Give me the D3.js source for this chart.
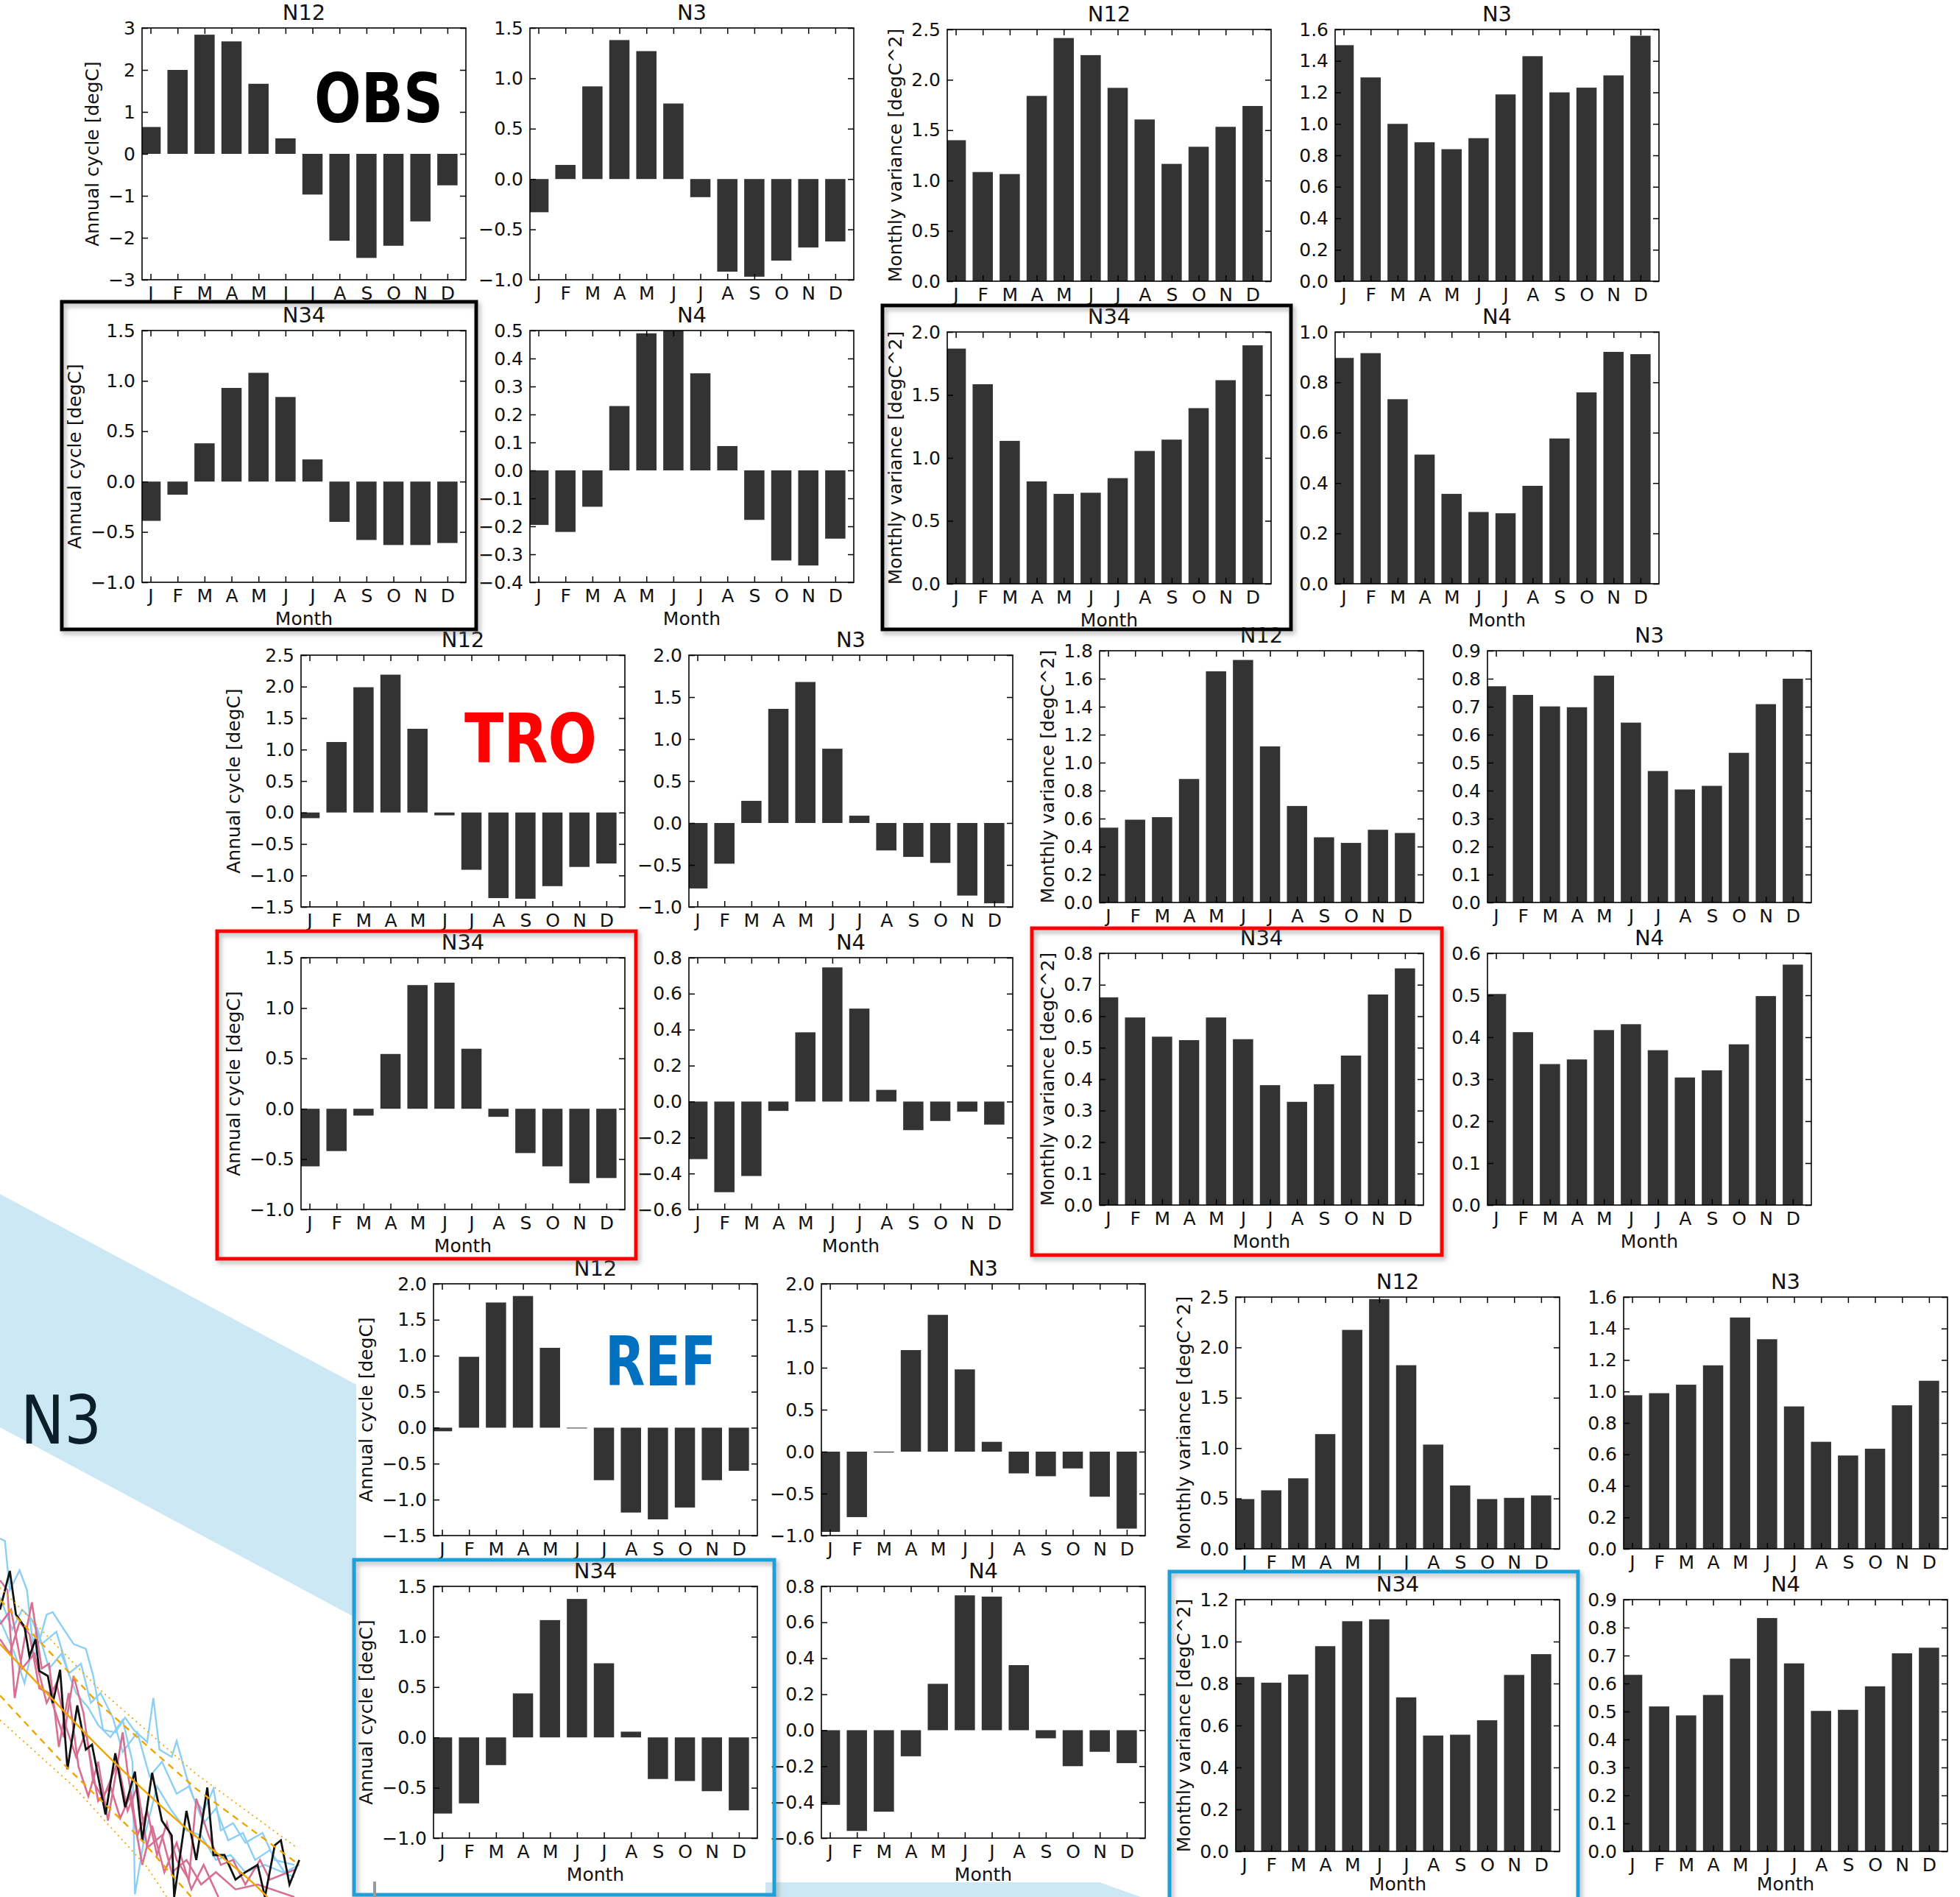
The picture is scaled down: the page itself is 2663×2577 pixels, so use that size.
<!DOCTYPE html>
<html>
<head>
<meta charset="utf-8">
<script src="https://cdn.jsdelivr.net/npm/d3@7"></script>
<style>
body { margin: 0; background: #fff; }
svg { display: block; }
text { font-family: 'DejaVu Sans', sans-serif; }
</style>
</head>
<body>
<svg id="fig" width="2663" height="2577"></svg>
<script>
var months = ["J","F","M","A","M","J","J","A","S","O","N","D"];

// OBS - annual cycle [degC]
var obsN12Cycle = [0.64, 2.0, 2.84, 2.68, 1.67, 0.37, -0.97, -2.07, -2.48, -2.19, -1.61, -0.75];
var obsN3Cycle  = [-0.33, 0.14, 0.92, 1.38, 1.27, 0.75, -0.18, -0.92, -0.97, -0.81, -0.68, -0.62];
var obsN34Cycle = [-0.39, -0.13, 0.38, 0.93, 1.08, 0.84, 0.22, -0.40, -0.58, -0.63, -0.63, -0.61];
var obsN4Cycle  = [-0.195, -0.22, -0.13, 0.23, 0.49, 0.51, 0.347, 0.087, -0.177, -0.322, -0.34, -0.244];
// OBS - monthly variance [degC^2]
var obsN12Var = [1.40, 1.084, 1.064, 1.84, 2.415, 2.245, 1.92, 1.606, 1.165, 1.335, 1.533, 1.74];
var obsN3Var  = [1.50, 1.295, 1.0, 0.883, 0.839, 0.909, 1.187, 1.43, 1.2, 1.23, 1.308, 1.56];
var obsN34Var = [1.868, 1.585, 1.135, 0.813, 0.714, 0.723, 0.839, 1.055, 1.145, 1.395, 1.617, 1.894];
var obsN4Var  = [0.897, 0.916, 0.733, 0.513, 0.357, 0.285, 0.28, 0.389, 0.577, 0.76, 0.921, 0.912];

// TRO
var troN12Cycle = [-0.09, 1.12, 1.99, 2.19, 1.33, -0.045, -0.91, -1.36, -1.37, -1.17, -0.865, -0.81];
var troN3Cycle  = [-0.78, -0.485, 0.264, 1.36, 1.68, 0.885, 0.087, -0.327, -0.404, -0.476, -0.865, -0.957];
var troN34Cycle = [-0.572, -0.42, -0.068, 0.544, 1.228, 1.252, 0.596, -0.08, -0.44, -0.572, -0.74, -0.688];
var troN4Cycle  = [-0.32, -0.504, -0.414, -0.052, 0.385, 0.746, 0.517, 0.065, -0.159, -0.108, -0.056, -0.128];
var troN12Var = [0.535, 0.592, 0.61, 0.883, 1.653, 1.734, 1.116, 0.69, 0.466, 0.426, 0.52, 0.497];
var troN3Var  = [0.773, 0.742, 0.701, 0.698, 0.811, 0.643, 0.47, 0.404, 0.417, 0.535, 0.709, 0.80];
var troN34Var = [0.66, 0.596, 0.535, 0.524, 0.596, 0.527, 0.381, 0.328, 0.384, 0.475, 0.669, 0.752];
var troN4Var  = [0.503, 0.412, 0.336, 0.347, 0.417, 0.431, 0.369, 0.304, 0.321, 0.383, 0.498, 0.573];

// REF
var refN12Cycle = [-0.05, 0.985, 1.74, 1.83, 1.11, -0.01, -0.73, -1.18, -1.275, -1.11, -0.73, -0.60];
var refN3Cycle  = [-0.956, -0.78, -0.01, 1.21, 1.63, 0.98, 0.117, -0.259, -0.293, -0.2, -0.537, -0.917];
var refN34Cycle = [-0.756, -0.655, -0.275, 0.437, 1.165, 1.375, 0.736, 0.057, -0.413, -0.433, -0.534, -0.724];
var refN4Cycle  = [-0.415, -0.56, -0.453, -0.145, 0.258, 0.75, 0.743, 0.362, -0.045, -0.2, -0.12, -0.183];
var refN12Var = [0.494, 0.581, 0.70, 1.139, 2.174, 2.48, 1.823, 1.035, 0.629, 0.494, 0.506, 0.53];
var refN3Var  = [0.976, 0.989, 1.043, 1.166, 1.47, 1.332, 0.905, 0.68, 0.593, 0.636, 0.912, 1.068];
var refN34Var = [0.831, 0.804, 0.843, 0.978, 1.097, 1.106, 0.734, 0.552, 0.556, 0.625, 0.841, 0.94];
var refN4Var  = [0.631, 0.518, 0.486, 0.559, 0.689, 0.834, 0.672, 0.502, 0.506, 0.59, 0.708, 0.728];

// y tick labels
var obsN12CycleTicks = [-3, -2, -1, 0, 1, 2, 3];
var obsN3CycleTicks  = [-1.0, -0.5, 0.0, 0.5, 1.0, 1.5];
var obsN34CycleTicks = [-1.0, -0.5, 0.0, 0.5, 1.0, 1.5];
var obsN4CycleTicks  = [-0.4, -0.3, -0.2, -0.1, 0.0, 0.1, 0.2, 0.3, 0.4, 0.5];
var obsN12VarTicks = [0.0, 0.5, 1.0, 1.5, 2.0, 2.5];
var obsN3VarTicks  = [0.0, 0.2, 0.4, 0.6, 0.8, 1.0, 1.2, 1.4, 1.6];
var obsN34VarTicks = [0.0, 0.5, 1.0, 1.5, 2.0];
var obsN4VarTicks  = [0.0, 0.2, 0.4, 0.6, 0.8, 1.0];
var troN12CycleTicks = [-1.5, -1.0, -0.5, 0.0, 0.5, 1.0, 1.5, 2.0, 2.5];
var troN3CycleTicks  = [-1.0, -0.5, 0.0, 0.5, 1.0, 1.5, 2.0];
var troN34CycleTicks = [-1.0, -0.5, 0.0, 0.5, 1.0, 1.5];
var troN4CycleTicks  = [-0.6, -0.4, -0.2, 0.0, 0.2, 0.4, 0.6, 0.8];
var troN12VarTicks = [0.0, 0.2, 0.4, 0.6, 0.8, 1.0, 1.2, 1.4, 1.6, 1.8];
var troN3VarTicks  = [0.0, 0.1, 0.2, 0.3, 0.4, 0.5, 0.6, 0.7, 0.8, 0.9];
var troN34VarTicks = [0.0, 0.1, 0.2, 0.3, 0.4, 0.5, 0.6, 0.7, 0.8];
var troN4VarTicks  = [0.0, 0.1, 0.2, 0.3, 0.4, 0.5, 0.6];
var refN12CycleTicks = [-1.5, -1.0, -0.5, 0.0, 0.5, 1.0, 1.5, 2.0];
var refN3CycleTicks  = [-1.0, -0.5, 0.0, 0.5, 1.0, 1.5, 2.0];
var refN34CycleTicks = [-1.0, -0.5, 0.0, 0.5, 1.0, 1.5];
var refN4CycleTicks  = [-0.6, -0.4, -0.2, 0.0, 0.2, 0.4, 0.6, 0.8];
var refN12VarTicks = [0.0, 0.5, 1.0, 1.5, 2.0, 2.5];
var refN3VarTicks  = [0.0, 0.2, 0.4, 0.6, 0.8, 1.0, 1.2, 1.4, 1.6];
var refN34VarTicks = [0.0, 0.2, 0.4, 0.6, 0.8, 1.0, 1.2];
var refN4VarTicks  = [0.0, 0.1, 0.2, 0.3, 0.4, 0.5, 0.6, 0.7, 0.8, 0.9];

// background time series (clipped piece of another figure)
var tsBlack = [[0,380],[40,222],[65,400],[100,450],[120,570],[145,500],[160,630],[195,650],[215,760],[245,625],[275,1030],[315,770],[350,950],[375,930],[430,1215],[470,965],[510,1185],[550,1040],[580,1320],[620,1045],[660,1240],[700,1300],[710,1551],[760,1200],[800,1400],[845,1105],[870,1380],[915,1380],[960,1480],[1000,1450],[1050,1420],[1080,1551],[1120,1340],[1145,1320],[1180,1500],[1220,1400]];
var tsBlue1 = [[0,90],[20,100],[40,300],[80,220],[110,300],[140,580],[190,400],[215,390],[260,460],[300,520],[350,540],[380,650],[420,870],[470,880],[510,820],[545,870],[600,920],[625,740],[650,950],[700,980],[720,915],[760,1060],[790,1150],[830,1200],[870,1110],[900,1280],[950,1250],[1000,1330],[1070,1290],[1120,1400],[1200,1420]];
var tsBlue2 = [[0,420],[60,560],[100,680],[150,450],[200,620],[250,560],[310,720],[360,780],[400,850],[450,900],[500,830],[540,1000],[550,1540],[590,1300],[640,1100],[700,1200],[760,1280],[820,1300],[880,1400],[940,1380],[1000,1450],[1080,1420],[1200,1470]];
var tsBlue3 = [[0,330],[50,460],[90,380],[130,420],[170,520],[230,470],[280,640],[330,600],[370,760],[410,720],[460,820],[500,960],[560,880],[610,1060],[660,1000],[720,1130],[770,1100],[830,1250],[880,1190],[930,1320],[990,1290],[1040,1400],[1100,1360],[1160,1450],[1220,1420]];
var tsPink1 = [[0,260],[30,300],[60,740],[100,500],[130,350],[170,620],[200,600],[240,940],[280,720],[320,1020],[360,1140],[400,1000],[440,1240],[470,1060],[500,880],[520,1040],[560,1300],[600,1200],[640,1380],[680,1250],[720,1400],[770,1480],[800,1150],[850,1300],[900,1420],[950,1400],[1000,1500],[1060,1400],[1100,1480],[1200,1440]];
var tsPink2 = [[0,500],[40,560],[80,430],[120,480],[160,700],[200,720],[260,900],[300,650],[340,800],[380,1080],[420,1150],[480,1000],[520,1200],[560,1100],[600,1350],[660,1300],[700,1451],[760,1400],[820,1500],[880,1450],[960,1520],[1050,1500],[1200,1551]];
var tsPink3 = [[0,440],[45,380],[90,620],[140,560],[190,760],[230,680],[270,860],[310,980],[350,880],[400,1160],[450,1100],[490,1230],[530,1140],[580,1420],[620,1260],[670,1450],[720,1330],[780,1520],[830,1420],[890,1551]];
var tsTrend    = [[0,520],[210,740],[400,940],[600,1130],[800,1310],[1000,1460],[1090,1551]];
var tsDashHi   = [[0,340],[400,760],[800,1110],[1220,1420]];
var tsDashLo   = [[0,730],[270,1020],[560,1300],[780,1551]];
var tsDotHi    = [[0,290],[400,700],[800,1050],[1210,1350]];
var tsDotLo    = [[0,830],[300,1100],[600,1430],[680,1551]];

var svg = d3.select("#fig");
var defs = svg.append("defs");
var shadow = defs.append("filter").attr("id", "shadow")
    .attr("x", "-5%").attr("y", "-5%").attr("width", "110%").attr("height", "110%");
shadow.append("feDropShadow").attr("dx", 3).attr("dy", 4).attr("stdDeviation", 3)
    .attr("flood-color", "#777").attr("flood-opacity", 0.55);

// light blue band in the background
var band = svg.append("g");
band.append("path")
    .attr("d", "M0,1622 L484,1881 L484,2198 L0,1939 Z")
    .attr("fill", "#cce8f4");
band.append("path")
    .attr("d", "M1040,2557 L1494,2557 L1550,2577 L1040,2577 Z")
    .attr("fill", "#cce8f4");
band.append("text")
    .attr("x", 28).attr("y", 1961)
    .attr("font-family", "'DejaVu Sans', sans-serif")
    .attr("font-size", 90)
    .attr("textLength", 110).attr("lengthAdjust", "spacingAndGlyphs")
    .attr("fill", "#0b1f2a")
    .text("N3");

// background time series piece
var tsx = d3.scaleLinear().domain([0, 1260]).range([0, 420]);
var tsy = d3.scaleLinear().domain([0, 1551]).range([2060, 2577]);
var tsLine = d3.line().x(function(d){ return tsx(d[0]); }).y(function(d){ return tsy(d[1]); });
defs.append("clipPath").attr("id", "tsclip").append("rect")
    .attr("x", 0).attr("y", 2060).attr("width", 408).attr("height", 517);
var ts = svg.append("g").attr("clip-path", "url(#tsclip)");
[[tsBlue1, "#8ccff5", 2.4], [tsBlue2, "#8ccff5", 2.4], [tsBlue3, "#8ccff5", 2.4],
 [tsPink1, "#d66f90", 2.6], [tsPink2, "#d66f90", 2.6], [tsPink3, "#d66f90", 2.6]]
  .forEach(function(s){
    ts.append("path").datum(s[0]).attr("d", tsLine)
      .attr("fill", "none").attr("stroke", s[1]).attr("stroke-width", s[2]);
  });
ts.append("path").datum(tsBlack).attr("d", tsLine)
    .attr("fill", "none").attr("stroke", "#111").attr("stroke-width", 2.8);
ts.append("path").datum(tsTrend).attr("d", tsLine.curve(d3.curveBasis))
    .attr("fill", "none").attr("stroke", "#f0a500").attr("stroke-width", 2.4);
tsLine.curve(d3.curveLinear);
[[tsDashHi, "9,7", 2.4], [tsDashLo, "9,7", 2.4], [tsDotHi, "2,5", 1.8], [tsDotLo, "2,5", 1.8]]
  .forEach(function(s){
    ts.append("path").datum(s[0]).attr("d", tsLine)
      .attr("fill", "none").attr("stroke", "#f0a500")
      .attr("stroke-width", s[2]).attr("stroke-dasharray", s[1]);
  });

// panel grid inside each image
var PW = 440, PH = 342;
var colOff = [0, 527], rowOff = [0, 411];
var fmtInt = d3.format("d"), fmtOne = d3.format(".1f");

var images = [
  {ox: 193, oy: 38, ylab: "Annual cycle [degC]",
   panels: [["N12", obsN12Cycle, obsN12CycleTicks], ["N3", obsN3Cycle, obsN3CycleTicks],
            ["N34", obsN34Cycle, obsN34CycleTicks], ["N4", obsN4Cycle, obsN4CycleTicks]]},
  {ox: 1287, oy: 40, ylab: "Monthly variance [degC^2]",
   panels: [["N12", obsN12Var, obsN12VarTicks], ["N3", obsN3Var, obsN3VarTicks],
            ["N34", obsN34Var, obsN34VarTicks], ["N4", obsN4Var, obsN4VarTicks]]},
  {ox: 409, oy: 890, ylab: "Annual cycle [degC]",
   panels: [["N12", troN12Cycle, troN12CycleTicks], ["N3", troN3Cycle, troN3CycleTicks],
            ["N34", troN34Cycle, troN34CycleTicks], ["N4", troN4Cycle, troN4CycleTicks]]},
  {ox: 1494, oy: 884, ylab: "Monthly variance [degC^2]",
   panels: [["N12", troN12Var, troN12VarTicks], ["N3", troN3Var, troN3VarTicks],
            ["N34", troN34Var, troN34VarTicks], ["N4", troN4Var, troN4VarTicks]]},
  {ox: 589, oy: 1744, ylab: "Annual cycle [degC]",
   panels: [["N12", refN12Cycle, refN12CycleTicks], ["N3", refN3Cycle, refN3CycleTicks],
            ["N34", refN34Cycle, refN34CycleTicks], ["N4", refN4Cycle, refN4CycleTicks]]},
  {ox: 1679, oy: 1762, ylab: "Monthly variance [degC^2]",
   panels: [["N12", refN12Var, refN12VarTicks], ["N3", refN3Var, refN3VarTicks],
            ["N34", refN34Var, refN34VarTicks], ["N4", refN4Var, refN4VarTicks]]}
];

var clipId = 0;
function drawPanel(px, py, title, values, ticks, ylab, bottomRow) {
    var g = svg.append("g").attr("transform", "translate(" + px + "," + py + ")");
    var x = d3.scaleLinear().domain([0, 12]).range([0, PW]);
    var y = d3.scaleLinear().domain([ticks[0], ticks[ticks.length - 1]]).range([PH, 0]);
    var isInt = ticks[0] === -3 && ticks.length === 7;
    var fmt = isInt ? fmtInt : fmtOne;

    var cid = "pclip" + (clipId++);
    defs.append("clipPath").attr("id", cid).append("rect")
        .attr("x", 0).attr("y", 0).attr("width", PW).attr("height", PH);

    g.append("g").attr("clip-path", "url(#" + cid + ")")
      .selectAll("rect").data(values).enter().append("rect")
        .attr("x", function(d, i){ return x(i - 0.06); })
        .attr("width", function(d, i){ return x(i + 0.69) - x(i - 0.06); })
        .attr("y", function(d){ return y(Math.max(0, d)); })
        .attr("height", function(d){ return Math.max(1, Math.abs(y(d) - y(0))); })
        .attr("fill", "#333333");

    var centers = months.map(function(m, i){ return i + 0.315; });

    var left = g.append("g").call(d3.axisLeft(y).tickValues(ticks).tickFormat(fmt).tickSize(-8).tickPadding(9));
    g.append("g").attr("transform", "translate(" + PW + ",0)")
        .call(d3.axisRight(y).tickValues(ticks).tickFormat("").tickSize(-8));
    g.append("g").attr("transform", "translate(0," + PH + ")")
        .call(d3.axisBottom(x).tickValues(centers).tickFormat(function(d, i){ return months[i]; }).tickSize(-8).tickPadding(9));
    g.append("g")
        .call(d3.axisTop(x).tickValues(centers).tickFormat("").tickSize(-8));
    g.selectAll(".domain").remove();
    g.selectAll(".tick line").attr("stroke", "#000").attr("stroke-width", 1.5);
    g.selectAll(".tick text").attr("font-size", 25).attr("fill", "#111")
        .attr("font-family", "'DejaVu Sans', sans-serif");

    g.append("rect").attr("x", 0).attr("y", 0).attr("width", PW).attr("height", PH)
        .attr("fill", "none").attr("stroke", "#000").attr("stroke-width", 1.6);

    if (ylab) {
        var bb = left.node().getBBox();
        g.append("text")
            .attr("transform", "translate(" + (bb.x - 13) + "," + (PH / 2) + ") rotate(-90)")
            .attr("text-anchor", "middle").attr("font-size", 25).attr("fill", "#111")
            .text(ylab);
    }

    g.append("text").attr("x", PW / 2).attr("y", -11)
        .attr("text-anchor", "middle").attr("font-size", 29).attr("fill", "#111")
        .text(title);

    if (bottomRow) {
        g.append("text").attr("x", PW / 2).attr("y", Math.min(PH + 58, 2568 - py))
            .attr("text-anchor", "middle").attr("font-size", 25).attr("fill", "#111")
            .text("Month");
    }
}

images.forEach(function(im){
    im.panels.forEach(function(p, k){
        var c = k % 2, r = Math.floor(k / 2);
        drawPanel(im.ox + colOff[c], im.oy + rowOff[r], p[0], p[1], p[2], c === 0 ? im.ylab : null, r === 1);
    });
});

// highlight boxes around the N34 panels
var boxes = [
  [84, 410, 647, 855, "#000000"],
  [1199, 415, 1754, 855, "#000000"],
  [295, 1265, 864, 1710, "#ff0000"],
  [1402, 1261, 1959, 1705, "#ff0000"],
  [481, 2119, 1052, 2574, "#1ba0da"],
  [1589, 2135, 2144, 2590, "#1ba0da"]
];
svg.append("g").selectAll("rect").data(boxes).enter().append("rect")
    .attr("x", function(d){ return d[0]; })
    .attr("y", function(d){ return d[1]; })
    .attr("width", function(d){ return d[2] - d[0]; })
    .attr("height", function(d){ return d[3] - d[1]; })
    .attr("fill", "none")
    .attr("stroke", function(d){ return d[4]; })
    .attr("stroke-width", 5)
    .attr("filter", "url(#shadow)");

// big group labels
var tags = [
  ["OBS", 427, 166, 175, "#000000"],
  ["TRO", 631, 1036, 180, "#ff0000"],
  ["REF", 822, 1882, 151, "#0070c0"]
];
svg.append("g").selectAll("text").data(tags).enter().append("text")
    .attr("x", function(d){ return d[1]; })
    .attr("y", function(d){ return d[2]; })
    .attr("textLength", function(d){ return d[3]; })
    .attr("lengthAdjust", "spacingAndGlyphs")
    .attr("font-family", "Lato, 'Open Sans', sans-serif")
    .attr("font-weight", "bold")
    .attr("font-size", 93)
    .attr("fill", function(d){ return d[4]; })
    .text(function(d){ return d[0]; });

// small grey mark at the bottom
svg.append("rect").attr("x", 507).attr("y", 2556).attr("width", 4).attr("height", 21).attr("fill", "#9a9a9a");
</script>
</body>
</html>
